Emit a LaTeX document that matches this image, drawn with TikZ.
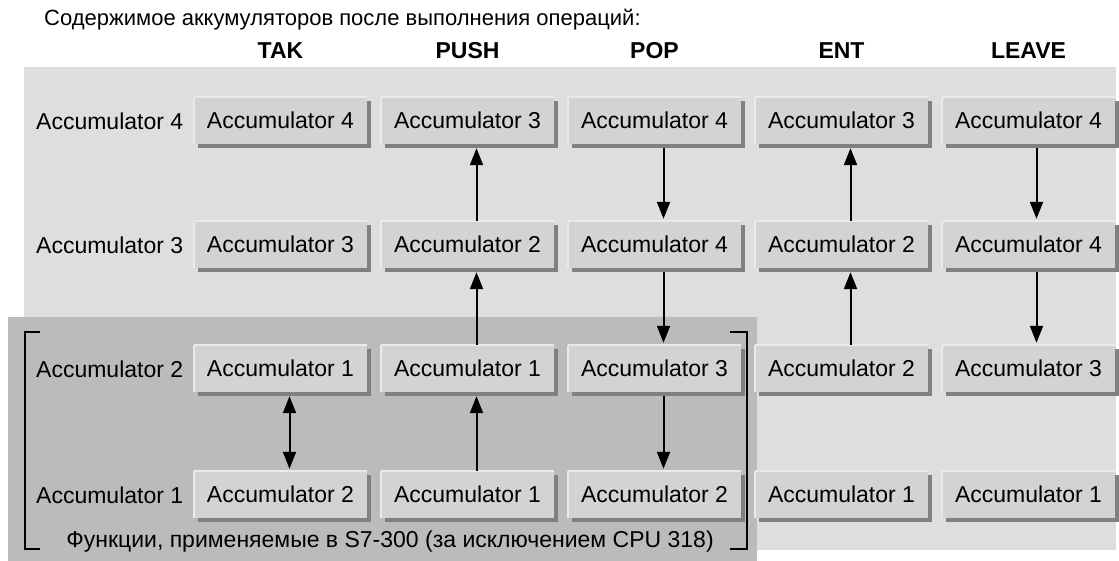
\documentclass[tikz,border=0pt]{standalone}
\usepackage{fontspec}
\setmainfont{Liberation Sans}
\usetikzlibrary{shadows,arrows.meta}
\definecolor{bglight}{HTML}{DEDEDE}
\definecolor{bgdark}{HTML}{BBBBBB}
\definecolor{boxfill}{HTML}{D3D3D3}
\definecolor{boxhl}{HTML}{EAEAEA}
\definecolor{boxsh}{HTML}{808080}
\tikzset{
  accbox/.style={fill=boxfill, draw=none, minimum width=173pt, minimum height=47pt,
    inner sep=0pt, font=\fontsize{23}{27}\selectfont,
    drop shadow={shadow xshift=4pt, shadow yshift=-4pt, opacity=1, fill=boxsh},
    append after command={
      (\tikzlastnode.south west) edge[draw=boxhl, line width=2pt] (\tikzlastnode.north west)
      (\tikzlastnode.north west) edge[draw=boxhl, line width=2pt] (\tikzlastnode.north east)}},
  rowlabel/.style={anchor=west, inner sep=0pt, font=\fontsize{23}{27}\selectfont},
  header/.style={inner sep=0pt, font=\fontsize{23}{27}\selectfont\bfseries},
  plaintext/.style={inner sep=0pt, font=\fontsize{23}{27}\selectfont},
  flow/.style={line width=2pt, -{Triangle[width=13pt,length=17pt]}},
  flowboth/.style={line width=2pt, {Triangle[width=13pt,length=17pt]}-{Triangle[width=13pt,length=17pt]}},
  bracket/.style={line width=2pt, black}
}
\begin{document}
\begin{tikzpicture}[x=1pt,y=-1pt]
\useasboundingbox (0,0) rectangle (1119,561);
\fill[white] (0,0) rectangle (1119,561);
\fill[bglight] (24,67) rectangle (1116,550);
\fill[bgdark] (8,317) rectangle (757,561);

\node[plaintext, anchor=west, font=\fontsize{22}{26}\selectfont] (title) at (44,20) {Содержимое аккумуляторов после выполнения операций:};
\node[header] (hTAK) at (280.5,51) {TAK};
\node[header] (hPUSH) at (467.5,51) {PUSH};
\node[header] (hPOP) at (654.5,51) {POP};
\node[header] (hENT) at (841.5,51) {ENT};
\node[header] (hLEAVE) at (1028.5,51) {LEAVE};

\node[rowlabel] (l4) at (36,121) {Accumulator 4};
\node[rowlabel] (l3) at (36,245) {Accumulator 3};
\node[rowlabel] (l2) at (36,369) {Accumulator 2};
\node[rowlabel] (l1) at (36,495) {Accumulator 1};

% TAK
\node[accbox] (t4) at (280.5,120.5) {Accumulator 4};
\node[accbox] (t3) at (280.5,244.5) {Accumulator 3};
\node[accbox] (t2) at (280.5,368.5) {Accumulator 1};
\node[accbox] (t1) at (280.5,494.5) {Accumulator 2};
% PUSH
\node[accbox] (p4) at (467.5,120.5) {Accumulator 3};
\node[accbox] (p3) at (467.5,244.5) {Accumulator 2};
\node[accbox] (p2) at (467.5,368.5) {Accumulator 1};
\node[accbox] (p1) at (467.5,494.5) {Accumulator 1};
% POP
\node[accbox] (o4) at (654.5,120.5) {Accumulator 4};
\node[accbox] (o3) at (654.5,244.5) {Accumulator 4};
\node[accbox] (o2) at (654.5,368.5) {Accumulator 3};
\node[accbox] (o1) at (654.5,494.5) {Accumulator 2};
% ENT
\node[accbox] (e4) at (841.5,120.5) {Accumulator 3};
\node[accbox] (e3) at (841.5,244.5) {Accumulator 2};
\node[accbox] (e2) at (841.5,368.5) {Accumulator 2};
\node[accbox] (e1) at (841.5,494.5) {Accumulator 1};
% LEAVE
\node[accbox] (v4) at (1028.5,120.5) {Accumulator 4};
\node[accbox] (v3) at (1028.5,244.5) {Accumulator 4};
\node[accbox] (v2) at (1028.5,368.5) {Accumulator 3};
\node[accbox] (v1) at (1028.5,494.5) {Accumulator 1};

% arrows
\draw[flowboth] ([xshift=9pt,yshift=-4pt]t2.south) -- ([xshift=9pt,yshift=2pt]t1.north);
\draw[flow] ([xshift=9pt]p1.north) -- ([xshift=9pt,yshift=-4pt]p2.south);
\draw[flow] ([xshift=9pt]p2.north) -- ([xshift=9pt,yshift=-4pt]p3.south);
\draw[flow] ([xshift=9pt]p3.north) -- ([xshift=9pt,yshift=-4pt]p4.south);
\draw[flow] ([xshift=9pt,yshift=-4pt]o4.south) -- ([xshift=9pt,yshift=2pt]o3.north);
\draw[flow] ([xshift=9pt,yshift=-4pt]o3.south) -- ([xshift=9pt,yshift=2pt]o2.north);
\draw[flow] ([xshift=9pt,yshift=-4pt]o2.south) -- ([xshift=9pt,yshift=2pt]o1.north);
\draw[flow] ([xshift=9pt]e2.north) -- ([xshift=9pt,yshift=-4pt]e3.south);
\draw[flow] ([xshift=9pt]e3.north) -- ([xshift=9pt,yshift=-4pt]e4.south);
\draw[flow] ([xshift=8pt,yshift=-4pt]v4.south) -- ([xshift=8pt,yshift=2pt]v3.north);
\draw[flow] ([xshift=8pt,yshift=-4pt]v3.south) -- ([xshift=8pt,yshift=2pt]v2.north);

% brackets
\coordinate (bl1) at (40,332);
\coordinate (bl2) at (25,332);
\coordinate (bl3) at (25,549);
\coordinate (bl4) at (40,549);
\draw[bracket] (bl1) -- (bl2) -- (bl3) -- (bl4);
\coordinate (br1) at (730,332);
\coordinate (br2) at (747,332);
\coordinate (br3) at (747,549);
\coordinate (br4) at (730,549);
\draw[bracket] (br1) -- (br2) -- (br3) -- (br4);

\node[plaintext] (foot) at (390,542) {Функции, применяемые в S7-300 (за исключением CPU 318)};
\end{tikzpicture}
\end{document}
